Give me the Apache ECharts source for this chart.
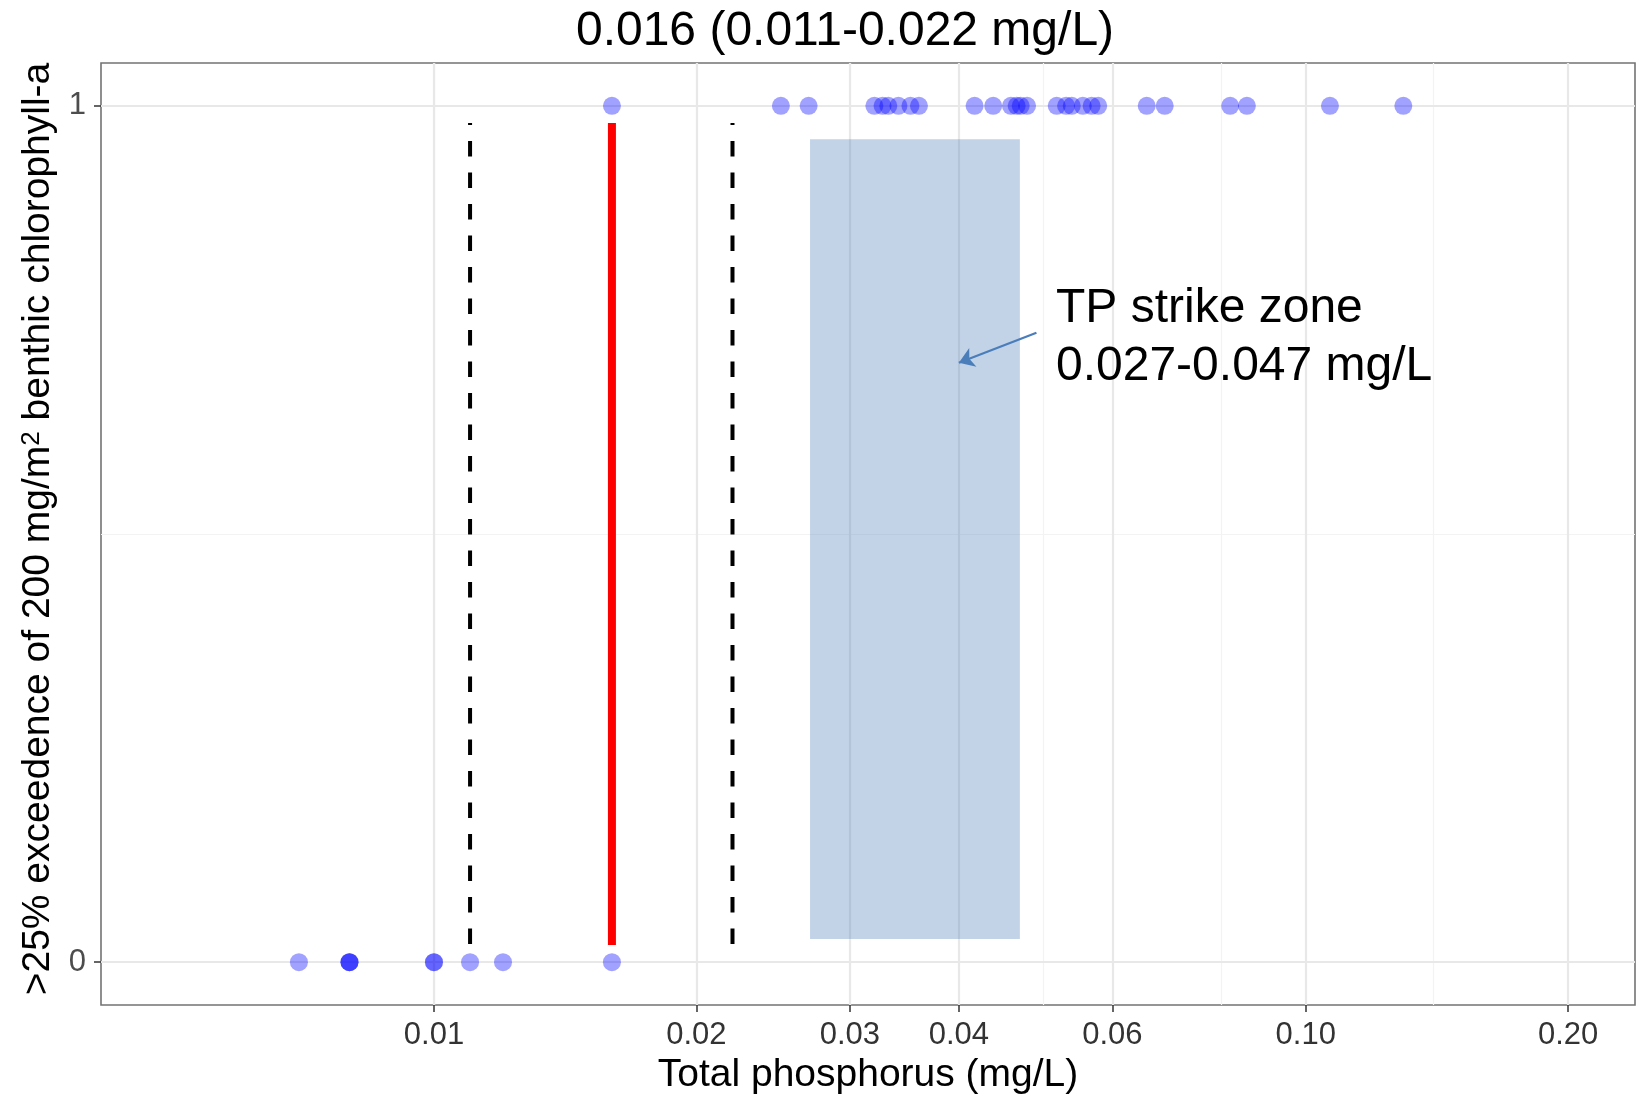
<!DOCTYPE html>
<html>
<head>
<meta charset="utf-8">
<title>Total phosphorus and benthic chlorophyll-a exceedence</title>
<script src="https://cdn.jsdelivr.net/npm/echarts@6/dist/echarts.min.js"></script>
<style>
  html, body { margin: 0; padding: 0; background: #ffffff; }
  #chart { width: 1637px; height: 1095px; }
</style>
</head>
<body>
<div id="chart"></div>
<script>
// Site TP (mg/L) where >25% of samples exceeded 200 mg/m2 benthic chlorophyll-a (plotted at 1)
const tpExceeded = [
  0.0160, 0.0250, 0.0269, 0.0320, 0.0327, 0.0332, 0.0341, 0.0352, 0.0360,
  0.0417, 0.0438, 0.0459, 0.0466, 0.0471, 0.0479,
  0.0518, 0.0531, 0.0539, 0.0555, 0.0568, 0.0578,
  0.0657, 0.0689, 0.0819, 0.0856, 0.1066, 0.1294
];
// Site TP (mg/L) where the exceedence criterion was not met (plotted at 0)
const tpNotExceeded = [0.0070, 0.0080, 0.0080, 0.0080, 0.0100, 0.0100, 0.0110, 0.0120, 0.0160];

// Change-point estimate and its interval (mg/L)
const thresholdMedian = 0.016;
const thresholdInterval = [0.011, 0.022];
const thresholdSpanY = [0.02, 0.98];

// TP strike zone (mg/L) and its vertical extent
const strikeZoneTP = [0.027, 0.047];
const strikeZoneY = [0.027, 0.961];
const arrowTail = [0.0491, 0.735];
const arrowHead = [0.0400, 0.700];

// Axis breaks
const xBreaks = [0.01, 0.02, 0.03, 0.04, 0.06, 0.10, 0.20];
const xBreakLabels = ['0.01', '0.02', '0.03', '0.04', '0.06', '0.10', '0.20'];
const xMinorBreaks = [0.007071, 0.014142, 0.024495, 0.034641, 0.048990, 0.077460, 0.141421];
const xLimits = [0.00415, 0.2386];
const yBreaks = [0, 1];
const yBreakLabels = ['0', '1'];
const yMinorBreaks = [0.5];
const yLimits = [-0.05, 1.05];

const titleText = '0.016 (0.011-0.022 mg/L)';
const xTitle = 'Total phosphorus (mg/L)';
const yTitle = '>25% exceedence of 200 mg/m{sup|2} benthic chlorophyll-a';
const zoneText = 'TP strike zone\n0.027-0.047 mg/L';

const FONT = '"Liberation Sans", Arial, Helvetica, sans-serif';
const chart = echarts.init(document.getElementById('chart'), null, { renderer: 'canvas' });

const majorGrid = { color: '#E8E8E8', width: 2.2, type: 'solid' };
const minorGrid = { color: '#F3F3F3', width: 1.2, type: 'solid' };

const gridLineData = []
  .concat(xMinorBreaks.map(v => ({ xAxis: v, lineStyle: minorGrid })))
  .concat(yMinorBreaks.map(v => ({ yAxis: v, lineStyle: minorGrid })))
  .concat(xBreaks.map(v => ({ xAxis: v, lineStyle: majorGrid })))
  .concat(yBreaks.map(v => ({ yAxis: v, lineStyle: majorGrid })));

// segments run top to bottom so the dash pattern starts at the upper end
function verticalSegment(x) {
  return [[x, thresholdSpanY[1]], [x, thresholdSpanY[0]]];
}

function labelFor(breaks, labels, v) {
  for (let i = 0; i < breaks.length; i++) {
    if (Math.abs(breaks[i] - v) <= Math.abs(breaks[i]) * 1e-6 + 1e-12) return labels[i];
  }
  return String(v);
}

const dashedStyle = { color: '#000000', width: 4, type: [15.5, 16], dashOffset: 13.5, cap: 'butt' };

const option = {
  animation: false,
  backgroundColor: '#ffffff',
  title: {
    text: titleText,
    left: 840,
    top: 3,
    textAlign: 'center',
    textStyle: { fontFamily: FONT, fontSize: 48, fontWeight: 'normal', color: '#000000' }
  },
  grid: {
    left: 101, top: 63, width: 1534, height: 942,
    outerBoundsMode: 'none',
    containLabel: false,
    show: true, borderColor: '#737373', borderWidth: 1.6, backgroundColor: 'transparent'
  },
  xAxis: {
    type: 'log',
    logBase: 10,
    min: xLimits[0],
    max: xLimits[1],
    position: 'bottom',
    name: xTitle,
    nameLocation: 'middle',
    nameGap: 48,
    nameTextStyle: { fontFamily: FONT, fontSize: 39, color: '#000000' },
    axisLine: { show: false, onZero: false },
    splitLine: { show: false },
    minorTick: { show: false },
    minorSplitLine: { show: false },
    axisTick: { show: true, customValues: xBreaks, length: 7, lineStyle: { color: '#333333', width: 1.5 } },
    axisLabel: {
      customValues: xBreaks,
      margin: 15,
      fontFamily: FONT, fontSize: 31, color: '#333333',
      formatter: v => labelFor(xBreaks, xBreakLabels, v)
    }
  },
  yAxis: {
    type: 'value',
    min: yLimits[0],
    max: yLimits[1],
    position: 'left',
    name: yTitle,
    nameLocation: 'middle',
    nameRotate: 90,
    nameGap: 30,
    nameTextStyle: {
      fontFamily: FONT, fontSize: 39, color: '#000000',
      padding: [0, 0, 0, 10],
      rich: { sup: { fontFamily: FONT, fontSize: 26, color: '#000000', verticalAlign: 'top' } }
    },
    axisLine: { show: false, onZero: false },
    splitLine: { show: false },
    axisTick: { show: true, customValues: yBreaks, length: 7, lineStyle: { color: '#333333', width: 1.5 } },
    axisLabel: {
      customValues: yBreaks,
      margin: 15,
      fontFamily: FONT, fontSize: 31, color: '#4D4D4D',
      formatter: v => labelFor(yBreaks, yBreakLabels, v)
    }
  },
  graphic: [{
    type: 'text',
    x: 1056,
    y: 338,
    z: 100,
    silent: true,
    style: {
      text: zoneText,
      fontFamily: FONT, fontSize: 48, lineHeight: 58,
      fill: '#000000', align: 'left', verticalAlign: 'middle'
    }
  }],
  series: [
    {
      // panel grid lines and the strike-zone band
      type: 'line',
      data: [],
      silent: true,
      markLine: {
        silent: true, z: 0, symbol: 'none', animation: false,
        label: { show: false }, emphasis: { disabled: true },
        data: gridLineData
      },
      markArea: {
        silent: true, z: 1, animation: false,
        itemStyle: { color: '#4F81BD', opacity: 0.35, borderWidth: 0 },
        label: { show: false }, emphasis: { disabled: true },
        data: [[
          { coord: [strikeZoneTP[0], strikeZoneY[0]] },
          { coord: [strikeZoneTP[1], strikeZoneY[1]] }
        ]]
      }
    },
    {
      name: 'lower interval', type: 'line', z: 3, silent: true,
      data: verticalSegment(thresholdInterval[0]), symbol: 'none',
      lineStyle: dashedStyle
    },
    {
      name: 'upper interval', type: 'line', z: 3, silent: true,
      data: verticalSegment(thresholdInterval[1]), symbol: 'none',
      lineStyle: dashedStyle
    },
    {
      name: 'threshold', type: 'line', z: 3, silent: true,
      data: verticalSegment(thresholdMedian), symbol: 'none',
      lineStyle: { color: '#FF0000', width: 8, cap: 'butt' }
    },
    {
      name: 'exceeded', type: 'scatter', z: 4, silent: true,
      symbol: 'circle', symbolSize: 18,
      itemStyle: { color: '#0000FF', opacity: 0.37 },
      data: tpExceeded.map(v => [v, 1])
    },
    {
      name: 'not exceeded', type: 'scatter', z: 4, silent: true,
      symbol: 'circle', symbolSize: 18,
      itemStyle: { color: '#0000FF', opacity: 0.37 },
      data: tpNotExceeded.map(v => [v, 0])
    },
    {
      // pointer from the label to the band
      type: 'line', data: [], silent: true,
      markLine: {
        silent: true, z: 6, animation: false,
        symbol: ['none', 'arrow'], symbolSize: 15,
        label: { show: false }, emphasis: { disabled: true },
        lineStyle: { color: '#4A7EBB', width: 2.2, type: 'solid' },
        data: [[{ coord: arrowTail }, { coord: arrowHead }]]
      }
    }
  ]
};

chart.setOption(option);
</script>
</body>
</html>
